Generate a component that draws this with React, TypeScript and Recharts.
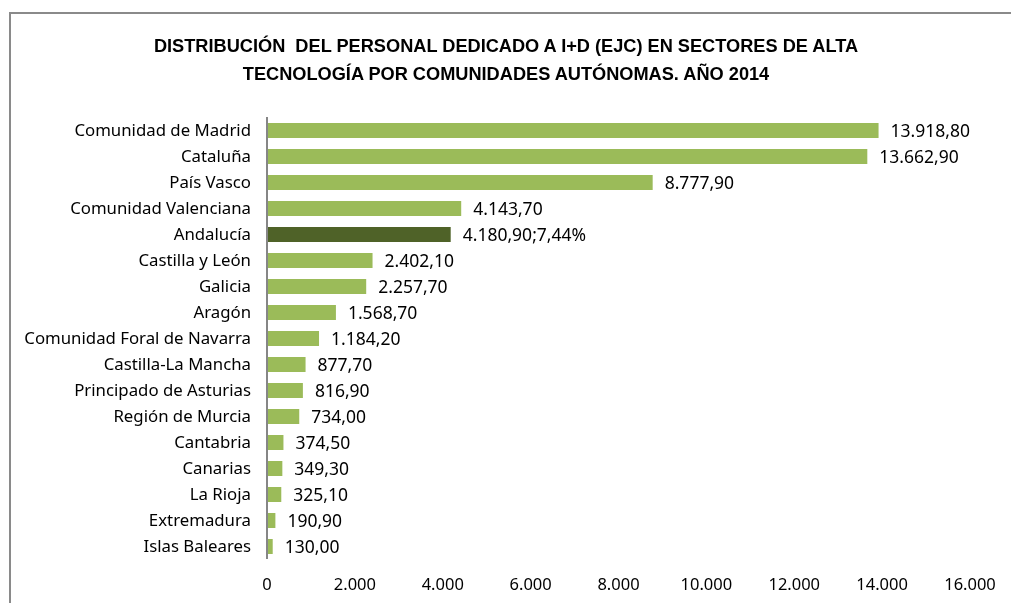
import React from "react";
import { BarChart, Bar, XAxis, YAxis, Cell, LabelList } from "recharts";

const regions = [
  "Comunidad de Madrid",
  "Cataluña",
  "País Vasco",
  "Comunidad Valenciana",
  "Andalucía",
  "Castilla y León",
  "Galicia",
  "Aragón",
  "Comunidad Foral de Navarra",
  "Castilla-La Mancha",
  "Principado de Asturias",
  "Región de Murcia",
  "Cantabria",
  "Canarias",
  "La Rioja",
  "Extremadura",
  "Islas Baleares",
];

// bar lengths as drawn in the picture
const personal = [
  13918.8, 13662.9, 8777.9, 4420, 4180.9, 2402.1, 2257.7, 1568.7, 1184.2,
  877.7, 816.9, 734.0, 374.5, 349.3, 325.1, 190.9, 130.0,
];

const valueLabels = [
  "13.918,80",
  "13.662,90",
  "8.777,90",
  "4.143,70",
  "4.180,90;7,44%",
  "2.402,10",
  "2.257,70",
  "1.568,70",
  "1.184,20",
  "877,70",
  "816,90",
  "734,00",
  "374,50",
  "349,30",
  "325,10",
  "190,90",
  "130,00",
];

const xTicks = [0, 2000, 4000, 6000, 8000, 10000, 12000, 14000, 16000];

const highlight = "Andalucía";

const data = regions.map((name, i) => ({
  name,
  value: personal[i],
  label: valueLabels[i],
}));

const font = "'Noto Sans', 'Liberation Sans', sans-serif";

const fmt = (v: number) => v.toLocaleString("de-DE");

export default function App() {
  return (
    <div style={{ position: "relative", width: 1003, height: 595 }}>
      <div
        style={{
          position: "fixed",
          left: 9,
          top: 12,
          right: -4,
          bottom: -4,
          borderLeft: "2px solid #8a8a8a",
          borderTop: "2px solid #8a8a8a",
        }}
      />
      <div
        style={{
          position: "absolute",
          left: 0,
          top: 24,
          width: 996,
          textAlign: "center",
          fontFamily: "'Liberation Sans', sans-serif",
          fontWeight: "bold",
          fontSize: 18.2,
          lineHeight: "28px",
          color: "#000",
        }}
      >
        DISTRIBUCIÓN&nbsp; DEL PERSONAL DEDICADO A I+D (EJC) EN SECTORES DE ALTA
        <br />
        TECNOLOGÍA POR COMUNIDADES AUTÓNOMAS. AÑO 2014
      </div>
      <BarChart
        width={1003}
        height={595}
        data={data}
        layout="vertical"
        margin={{ top: 109, right: 41, bottom: 14, left: 0 }}
        style={{ position: "absolute", left: 0, top: 0 }}
      >
        <XAxis
          type="number"
          domain={[0, 16000]}
          ticks={xTicks}
          tickFormatter={fmt}
          axisLine={false}
          tickLine={false}
          tickMargin={13}
          height={30}
          tick={{ fill: "#000", fontSize: 16.5, fontFamily: font }}
          interval={0}
        />
        <YAxis
          type="category"
          dataKey="name"
          width={259}
          axisLine={{ stroke: "#868686", strokeWidth: 2 }}
          tickLine={false}
          tickMargin={10}
          interval={0}
          tick={{ fill: "#000", fontSize: 16.8, fontFamily: font }}
        />
        <Bar dataKey="value" barSize={15} isAnimationActive={false}>
          {data.map((d) => (
            <Cell
              key={d.name}
              fill={d.name === highlight ? "#4F6228" : "#9BBB59"}
            />
          ))}
          <LabelList
            dataKey="label"
            position="right"
            offset={12}
            fill="#000"
            fontSize={17.5}
            fontFamily={font}
          />
        </Bar>
      </BarChart>
    </div>
  );
}
